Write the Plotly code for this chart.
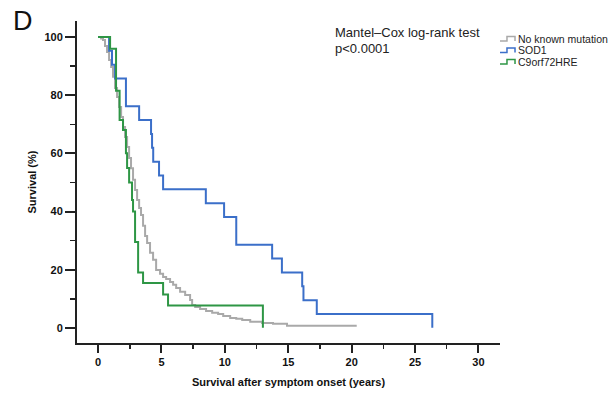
import plotly.graph_objects as go

# ---------------- data ----------------
none_t = [0, 0.24, 0.39, 0.55, 0.71, 0.87, 1.03, 1.18, 1.34, 1.50, 1.66, 1.82, 1.97, 2.13,
          2.29, 2.45, 2.60, 2.76, 2.92, 3.08, 3.24, 3.39, 3.55, 3.71, 3.87, 4.10, 4.34, 4.58,
          4.89, 5.13, 5.37, 5.68, 5.92, 6.16, 6.47, 6.87, 7.26, 7.42, 7.66, 8.05, 8.52, 9.00,
          9.47, 9.87, 10.42, 10.90, 11.37, 12.00, 12.94, 13.80, 14.90, 20.40]
none_s = [100, 99.5, 99.0, 96.9, 94.8, 92.1, 89.7, 86.3, 82.5, 79.4, 75.9, 72.5, 69.1, 65.6,
          62.2, 58.4, 54.9, 50.9, 47.4, 44.0, 41.2, 38.8, 35.1, 31.6, 29.2, 25.8, 23.4, 19.9,
          18.6, 17.5, 16.8, 15.8, 14.8, 13.7, 12.4, 11.3, 9.6, 7.9, 7.2, 6.5, 5.8, 5.2,
          4.8, 4.1, 3.4, 3.1, 2.7, 2.1, 1.7, 1.4, 0.7, 0.7]

sod1_t = [0, 0.87, 1.10, 1.34, 2.20, 3.24, 4.18, 4.26, 4.35, 4.81, 5.13, 8.50, 9.94, 10.90,
          13.73, 14.50, 16.10, 16.20, 17.25, 26.36]
sod1_s = [100, 95.24, 90.48, 85.71, 76.19, 71.43, 66.67, 61.90, 57.14, 52.38, 47.62, 42.86,
          38.10, 28.57, 23.81, 19.05, 14.29, 9.52, 4.76, 0]

c9_t = [0, 0.95, 1.42, 1.70, 1.97, 2.20, 2.29, 2.45, 2.68, 2.76, 2.92, 3.16, 3.55, 5.13, 5.52, 13.0]
c9_s = [100, 96, 81.5, 71.5, 68, 60, 55, 50, 44, 40, 29.5, 19, 15.4, 11.5, 7.7, 0]

series_names = ["No known mutation", "SOD1", "C9orf72HRE"]
series_colors = ["#A9A9A9", "#3B6FC9", "#2E9645"]

x_ticks = [0, 5, 10, 15, 20, 25, 30]
y_ticks = [0, 20, 40, 60, 80, 100]

# ---------------- layout geometry ----------------
W, H = 611, 394
L, R, T, B = 77, 500, 21, 343   # plot area in pixels


def px(x):
    return (x - L) / (R - L)


def py(y):
    return (B - y) / (B - T)


FONT = "Liberation Sans, Arial, Helvetica, sans-serif"
INK = "#222222"

fig = go.Figure()
for t, s, name, col in [(none_t, none_s, series_names[0], series_colors[0]),
                        (sod1_t, sod1_s, series_names[1], series_colors[1]),
                        (c9_t, c9_s, series_names[2], series_colors[2])]:
    fig.add_trace(go.Scatter(x=t, y=s, mode="lines", name=name,
                             line=dict(color=col, width=2, shape="hv"),
                             showlegend=False, hoverinfo="skip"))

axis_common = dict(showgrid=False, zeroline=False, showline=True, linewidth=2,
                   linecolor=INK, ticks="outside", tickwidth=2, tickcolor=INK,
                   tickfont=dict(family=FONT, size=11, color="#111", weight="bold"))

fig.update_xaxes(range=[-1.66, 31.7], tickmode="array", tickvals=x_ticks,
                 ticktext=[str(v) for v in x_ticks], ticklen=8,
                 minor=dict(ticks="outside", dtick=2.5, tick0=0, ticklen=4,
                            tickwidth=1.5, tickcolor=INK, showgrid=False),
                 title=dict(text="<b>Survival after symptom onset (years)</b>",
                            font=dict(family=FONT, size=11, color="#111"), standoff=11),
                 **axis_common)
fig.update_yaxes(range=[-5.2, 105.5], tickmode="array", tickvals=y_ticks,
                 ticktext=[str(v) for v in y_ticks], ticklen=10,
                 minor=dict(ticks="outside", dtick=10, tick0=0, ticklen=5,
                            tickwidth=1.5, tickcolor=INK, showgrid=False),
                 title=dict(text="<b>Survival (%)</b>",
                            font=dict(family=FONT, size=11, color="#111"), standoff=6),
                 **axis_common)

annotations = [
    dict(text="D", x=px(23), y=py(21), font=dict(family=FONT, size=27, color="#111")),
    dict(text="Mantel\u2013Cox log-rank test", x=px(333), y=py(33), xanchor="left",
         font=dict(family=FONT, size=13, color=INK)),
    dict(text="p<0.0001", x=px(333), y=py(48), xanchor="left",
         font=dict(family=FONT, size=13, color=INK)),
]
shapes = []
legend_y = [39, 50.5, 62]
for name, col, yc in zip(series_names, series_colors, legend_y):
    annotations.append(dict(text=name, x=px(516), y=py(yc), xanchor="left",
                            font=dict(family=FONT, size=10.5, color=INK)))
    pts = [(500, yc + 2), (507, yc + 2), (507, yc - 2.5), (515, yc - 2.5), (515, yc + 2)]
    path = "M " + " L ".join(f"{px(a):.4f},{py(b):.4f}" for a, b in pts)
    shapes.append(dict(type="path", path=path, xref="paper", yref="paper",
                       line=dict(color=col, width=1.5)))

for a in annotations:
    a.update(xref="paper", yref="paper", showarrow=False, yanchor="middle")
    a.setdefault("xanchor", "center")

fig.update_layout(width=W, height=H, margin=dict(l=L, r=W - R, t=T, b=H - B, autoexpand=False),
                  paper_bgcolor="white", plot_bgcolor="white",
                  font=dict(family=FONT, color=INK),
                  annotations=annotations, shapes=shapes, showlegend=False)

fig.write_html("out.html", config={"displayModeBar": False, "staticPlot": True},
               post_script="document.body.style.margin='0';document.body.style.overflow='hidden';")
